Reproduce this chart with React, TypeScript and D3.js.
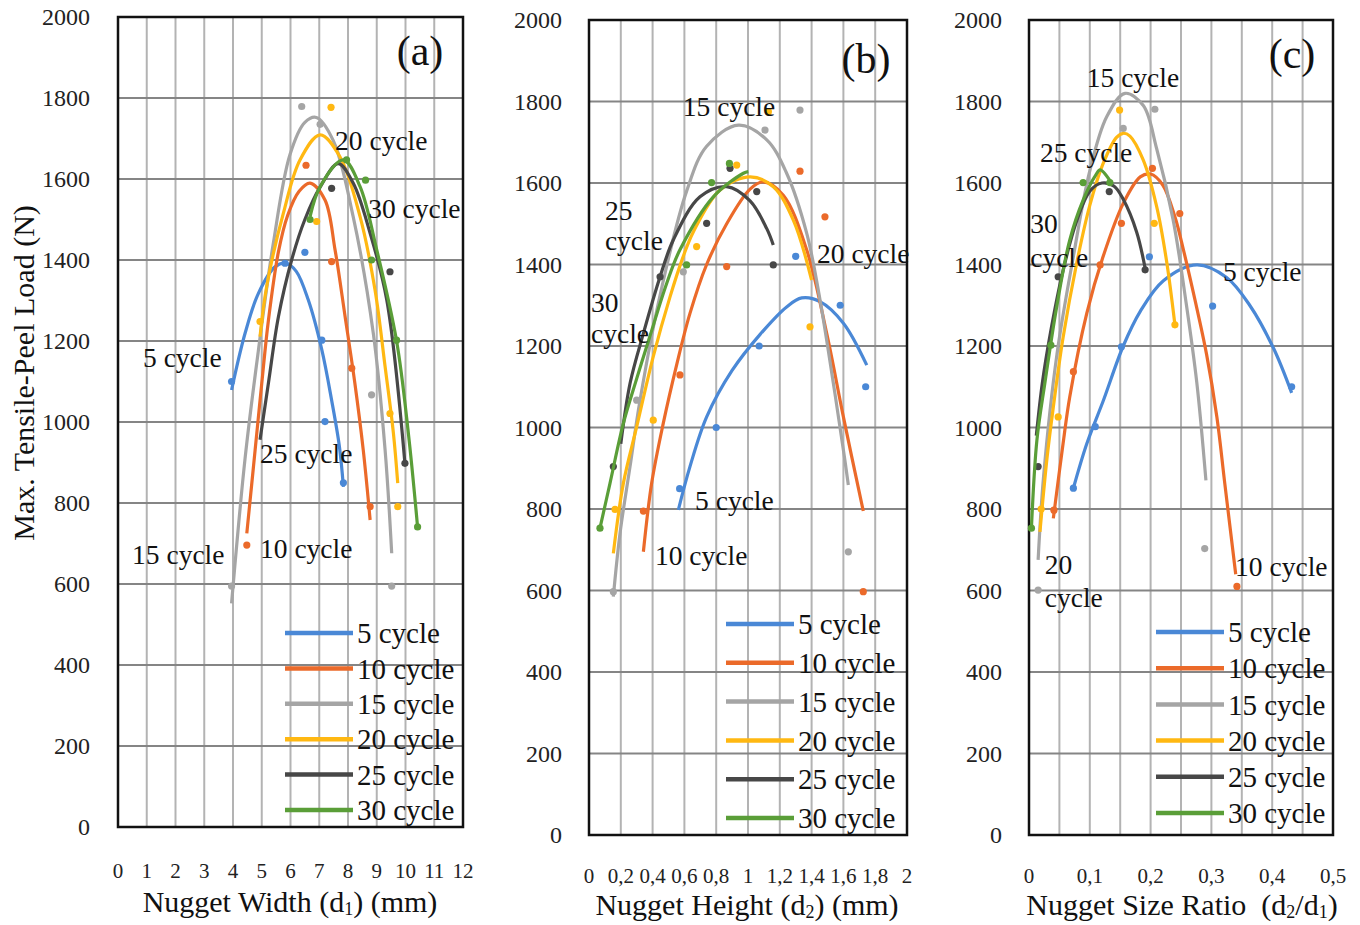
import React from "react";
import * as d3 from "d3";

// series
const cycleNames = ["5 cycle", "10 cycle", "15 cycle", "20 cycle", "25 cycle", "30 cycle"];
const cycleColors = ["#4a88d6", "#eb6a2a", "#a5a5a5", "#ffb812", "#474747", "#5a9e38"];

const loadTicks = [0, 200, 400, 600, 800, 1000, 1200, 1400, 1600, 1800, 2000];

// (a) nugget width
const widthTicks = ["0", "1", "2", "3", "4", "5", "6", "7", "8", "9", "10", "11", "12"];
const widthTrends = [
  [[3.95, 1079], [4.42, 1219], [4.88, 1317], [5.46, 1383], [5.85, 1392], [6.2, 1372], [6.62, 1301], [7.09, 1178], [7.43, 1054], [7.7, 940], [7.84, 840]],
  [[4.48, 725], [4.77, 931], [5.0, 1095], [5.23, 1250], [5.58, 1420], [5.9, 1510], [6.3, 1570], [6.68, 1590], [7.2, 1548], [7.55, 1425], [7.9, 1260], [8.24, 1095], [8.53, 931], [8.77, 758]],
  [[3.95, 552], [4.42, 910], [4.88, 1175], [5.4, 1440], [5.98, 1660], [6.5, 1740], [6.9, 1752], [7.48, 1696], [8.18, 1507], [8.88, 1219], [9.29, 931], [9.52, 676]],
  [[4.94, 1211], [5.17, 1334], [5.75, 1515], [6.33, 1647], [7.03, 1709], [7.72, 1655], [8.42, 1507], [8.94, 1326], [9.29, 1137], [9.58, 972], [9.73, 849]],
  [[4.94, 956], [5.23, 1095], [5.58, 1260], [6.04, 1400], [6.5, 1500], [7.03, 1580], [7.66, 1638], [8.18, 1590], [8.77, 1466], [9.35, 1301], [9.98, 898]],
  [[6.68, 1507], [7.03, 1581], [7.84, 1647], [8.42, 1581], [9.0, 1425], [9.69, 1200], [10.1, 972], [10.42, 741]],
];
const widthDots = [
  [[3.95, 1100], [5.81, 1392], [6.5, 1419], [7.09, 1202], [7.2, 1001], [7.84, 850]],
  [[4.48, 696], [6.54, 1634], [7.43, 1396], [8.13, 1133], [8.77, 791]],
  [[3.95, 595], [6.39, 1779], [7.03, 1735], [8.82, 1067], [9.52, 595]],
  [[4.94, 1248], [6.91, 1495], [7.41, 1777], [9.46, 1021], [9.73, 791]],
  [[7.43, 1577], [9.46, 1371], [9.98, 898]],
  [[6.68, 1500], [7.95, 1647], [8.61, 1597], [8.82, 1400], [9.69, 1202], [10.42, 741]],
];
const widthNotes = [
  { text: "20 cycle", x: 7.55, y: 1696 },
  { text: "30 cycle", x: 8.7, y: 1528 },
  { text: "5 cycle", x: 0.87, y: 1160 },
  { text: "25 cycle", x: 4.94, y: 923 },
  { text: "15 cycle", x: 0.49, y: 672 },
  { text: "10 cycle", x: 4.94, y: 689 },
];

// (b) nugget height
const heightTicks = ["0", "0,2", "0,4", "0,6", "0,8", "1", "1,2", "1,4", "1,6", "1,8", "2"];
const heightTrends = [
  [[0.562, 798], [0.635, 904], [0.74, 1026], [0.9, 1140], [1.075, 1228], [1.243, 1296], [1.338, 1318], [1.453, 1309], [1.6, 1256], [1.747, 1153]],
  [[0.342, 695], [0.394, 863], [0.467, 1010], [0.552, 1155], [0.635, 1280], [0.74, 1400], [0.866, 1500], [1.013, 1585], [1.096, 1603], [1.222, 1570], [1.369, 1436], [1.495, 1231], [1.6, 1026], [1.725, 795]],
  [[0.153, 585], [0.195, 740], [0.258, 904], [0.321, 1067], [0.45, 1330], [0.614, 1580], [0.74, 1690], [0.94, 1742], [1.118, 1706], [1.243, 1624], [1.369, 1477], [1.453, 1313], [1.537, 1108], [1.6, 945], [1.631, 859]],
  [[0.153, 691], [0.216, 863], [0.3, 1002], [0.404, 1174], [0.509, 1320], [0.593, 1420], [0.656, 1480], [0.824, 1583], [1.013, 1615], [1.159, 1591], [1.285, 1509], [1.4, 1362]],
  [[0.2, 960], [0.258, 1108], [0.342, 1231], [0.447, 1370], [0.53, 1460], [0.698, 1566], [0.866, 1591], [1.013, 1556], [1.118, 1488], [1.159, 1448]],
  [[0.069, 753], [0.132, 863], [0.216, 1010], [0.3, 1120], [0.384, 1225], [0.489, 1354], [0.572, 1436], [0.782, 1566], [0.971, 1624], [1.002, 1628]],
];
const heightDots = [
  [[0.57, 850], [0.8, 1000], [1.07, 1200], [1.3, 1420], [1.58, 1300], [1.74, 1100]],
  [[0.342, 795], [0.572, 1129], [0.866, 1395], [1.327, 1629], [1.484, 1517], [1.725, 597]],
  [[0.153, 597], [0.3, 1067], [0.593, 1382], [1.107, 1730], [1.327, 1779], [1.631, 695]],
  [[0.164, 799], [0.404, 1018], [0.677, 1444], [0.929, 1644], [1.128, 1775], [1.39, 1247]],
  [[0.153, 904], [0.447, 1370], [0.74, 1501], [0.887, 1636], [1.055, 1579], [1.159, 1399]],
  [[0.069, 753], [0.614, 1399], [0.771, 1601], [0.883, 1648]],
];
const heightNotes = [
  { text: "15 cycle", x: 0.59, y: 1787 },
  { text: "25", x: 0.1, y: 1534 },
  { text: "cycle", x: 0.1, y: 1460 },
  { text: "20 cycle", x: 1.434, y: 1428 },
  { text: "30", x: 0.013, y: 1308 },
  { text: "cycle", x: 0.013, y: 1232 },
  { text: "5 cycle", x: 0.667, y: 822 },
  { text: "10 cycle", x: 0.415, y: 687 },
];

// (c) nugget size ratio
const ratioTicks = ["0", "0,1", "0,2", "0,3", "0,4", "0,5"];
const ratioTrends = [
  [[0.073, 851], [0.095, 960], [0.122, 1065], [0.155, 1200], [0.183, 1285], [0.221, 1360], [0.276, 1399], [0.325, 1368], [0.363, 1300], [0.402, 1195], [0.432, 1085]],
  [[0.04, 777], [0.056, 960], [0.067, 1075], [0.095, 1280], [0.122, 1420], [0.155, 1550], [0.183, 1615], [0.2, 1622], [0.22, 1595], [0.24, 1517], [0.254, 1436], [0.273, 1313], [0.292, 1180], [0.309, 1026], [0.322, 863], [0.34, 640]],
  [[0.015, 675], [0.024, 880], [0.046, 1180], [0.073, 1420], [0.1, 1630], [0.128, 1763], [0.158, 1820], [0.188, 1790], [0.21, 1684], [0.237, 1510], [0.259, 1300], [0.276, 1110], [0.291, 870]],
  [[0.018, 744], [0.03, 930], [0.04, 1050], [0.056, 1220], [0.078, 1400], [0.1, 1545], [0.122, 1648], [0.144, 1712], [0.155, 1722], [0.166, 1715], [0.188, 1656], [0.21, 1542], [0.226, 1411], [0.24, 1252]],
  [[0.012, 980], [0.022, 1110], [0.035, 1230], [0.056, 1385], [0.078, 1505], [0.1, 1580], [0.12, 1600], [0.14, 1592], [0.155, 1560], [0.177, 1480], [0.191, 1391]],
  [[0.004, 753], [0.013, 969], [0.026, 1108], [0.046, 1300], [0.067, 1460], [0.089, 1558], [0.11, 1620], [0.117, 1632], [0.136, 1599]],
];
const ratioDots = [
  [[0.073, 851], [0.109, 1002], [0.152, 1198], [0.198, 1419], [0.302, 1298], [0.432, 1100]],
  [[0.041, 797], [0.073, 1137], [0.117, 1399], [0.152, 1501], [0.203, 1636], [0.248, 1525], [0.342, 610]],
  [[0.015, 601], [0.155, 1734], [0.207, 1781], [0.289, 703]],
  [[0.02, 800], [0.048, 1026], [0.149, 1779], [0.206, 1501], [0.24, 1252]],
  [[0.015, 904], [0.048, 1370], [0.132, 1579], [0.191, 1387]],
  [[0.004, 753], [0.036, 1202], [0.089, 1601], [0.133, 1601]],
];
const ratioNotes = [
  { text: "15 cycle", x: 0.095, y: 1860 },
  { text: "25 cycle", x: 0.018, y: 1676 },
  { text: "30", x: 0.002, y: 1502 },
  { text: "cycle", x: 0.002, y: 1418 },
  { text: "5 cycle", x: 0.319, y: 1382 },
  { text: "20", x: 0.026, y: 663 },
  { text: "cycle", x: 0.026, y: 584 },
  { text: "10 cycle", x: 0.339, y: 658 },
];

const serif = { fontFamily: '"Liberation Serif", "Times New Roman", "DejaVu Serif", serif' };

function Panel(props: any) {
  const { box, xMax, gridStep, tickStep, tickLabels, trends, dots, notes, tag, tagPos, legend, title, titleX, titleY, tickY, labelRight } = props;
  const x = d3.scaleLinear().domain([0, xMax]).range([box.left, box.right]);
  const y = d3.scaleLinear().domain([0, 2000]).range([box.bottom, box.top]);
  const line = d3
    .line<number[]>()
    .x((d) => x(d[0]))
    .y((d) => y(d[1]))
    .curve(d3.curveCatmullRom.alpha(0.5));
  const nGrid = Math.round(xMax / gridStep);
  const vGrid = d3.range(1, nGrid).map((i) => i * gridStep);

  return (
    <g>
      {vGrid.map((v) => (
        <line key={"v" + v} x1={x(v)} x2={x(v)} y1={box.top} y2={box.bottom} stroke="#b3b3b3" strokeWidth={2} />
      ))}
      {loadTicks.slice(1, -1).map((v) => (
        <line key={"h" + v} x1={box.left} x2={box.right} y1={y(v)} y2={y(v)} stroke="#858585" strokeWidth={2} />
      ))}
      <rect x={box.left} y={box.top} width={box.right - box.left} height={box.bottom - box.top} fill="none" stroke="#111" strokeWidth={2.5} />

      {loadTicks.map((v) => (
        <text key={"yt" + v} x={labelRight} y={y(v)} dy="0.35em" textAnchor="end" style={serif} fontSize={24} fill="#222">
          {v}
        </text>
      ))}
      {tickLabels.map((t: string, i: number) => (
        <text key={"xt" + i} x={x(i * tickStep)} y={tickY} dy="0.35em" textAnchor="middle" style={serif} fontSize={21} fill="#222">
          {t}
        </text>
      ))}

      {trends.map((pts: number[][], i: number) => (
        <g key={"s" + i}>
          <path d={line(pts) || ""} fill="none" stroke={cycleColors[i]} strokeWidth={3.2} />
          {dots[i].map((d: number[], j: number) => (
            <circle key={j} cx={x(d[0])} cy={y(d[1])} r={3.6} fill={cycleColors[i]} />
          ))}
        </g>
      ))}

      {notes.map((n: any, i: number) => (
        <text key={"n" + i} x={x(n.x)} y={y(n.y)} dy="0.35em" style={serif} fontSize={27.5} fill="#111">
          {n.text}
        </text>
      ))}

      <text x={tagPos[0]} y={tagPos[1]} dy="0.35em" textAnchor="middle" style={serif} fontSize={42} fill="#111">
        {tag}
      </text>

      {cycleNames.map((name, i) => (
        <g key={"lg" + i}>
          <line x1={legend.x} x2={legend.x + 68} y1={legend.y + i * legend.dy} y2={legend.y + i * legend.dy} stroke={cycleColors[i]} strokeWidth={4.5} />
          <text x={legend.x + 72} y={legend.y + i * legend.dy} dy="0.35em" style={serif} fontSize={29} fill="#111">
            {name}
          </text>
        </g>
      ))}

      <text x={titleX} y={titleY} textAnchor="middle" style={serif} fontSize={30} fill="#111">
        {title}
      </text>
    </g>
  );
}

const sub = (s: string) => (
  <tspan fontSize={18} dy={3}>
    {s}
  </tspan>
);

export default function App() {
  return (
    <svg width={1360} height={925} style={{ position: "absolute", left: 0, top: 0, background: "#fff" }}>
      <rect width={1360} height={925} fill="#fff" />
      <text transform="translate(23,373) rotate(-90)" dy="0.35em" textAnchor="middle" style={serif} fontSize={30} fill="#111">
        Max. Tensile-Peel Load (N)
      </text>

      <Panel
        box={{ left: 118, right: 463, top: 17, bottom: 827 }}
        xMax={12}
        gridStep={1}
        tickStep={1}
        tickLabels={widthTicks}
        trends={widthTrends}
        dots={widthDots}
        notes={widthNotes}
        tag="(a)"
        tagPos={[420, 50]}
        legend={{ x: 285, y: 633, dy: 35.4 }}
        labelRight={90}
        tickY={871}
        titleX={290}
        titleY={912}
        title={
          <>
            Nugget Width (d{sub("1")}
            <tspan dy={-3}>) (mm)</tspan>
          </>
        }
      />
      <Panel
        box={{ left: 589, right: 907, top: 20, bottom: 835 }}
        xMax={2}
        gridStep={0.2}
        tickStep={0.2}
        tickLabels={heightTicks}
        trends={heightTrends}
        dots={heightDots}
        notes={heightNotes}
        tag="(b)"
        tagPos={[866, 58]}
        legend={{ x: 726, y: 624, dy: 38.8 }}
        labelRight={562}
        tickY={876}
        titleX={747}
        titleY={915}
        title={
          <>
            Nugget Height (d{sub("2")}
            <tspan dy={-3}>) (mm)</tspan>
          </>
        }
      />
      <Panel
        box={{ left: 1029, right: 1333, top: 20, bottom: 835 }}
        xMax={0.5}
        gridStep={0.05}
        tickStep={0.1}
        tickLabels={ratioTicks}
        trends={ratioTrends}
        dots={ratioDots}
        notes={ratioNotes}
        tag="(c)"
        tagPos={[1292, 53]}
        legend={{ x: 1156, y: 632, dy: 36.2 }}
        labelRight={1002}
        tickY={876}
        titleX={1182}
        titleY={915}
        title={
          <>
            Nugget Size Ratio{"\u00a0\u00a0"}(d{sub("2")}
            <tspan dy={-3}>/d</tspan>
            {sub("1")}
            <tspan dy={-3}>)</tspan>
          </>
        }
      />
    </svg>
  );
}
